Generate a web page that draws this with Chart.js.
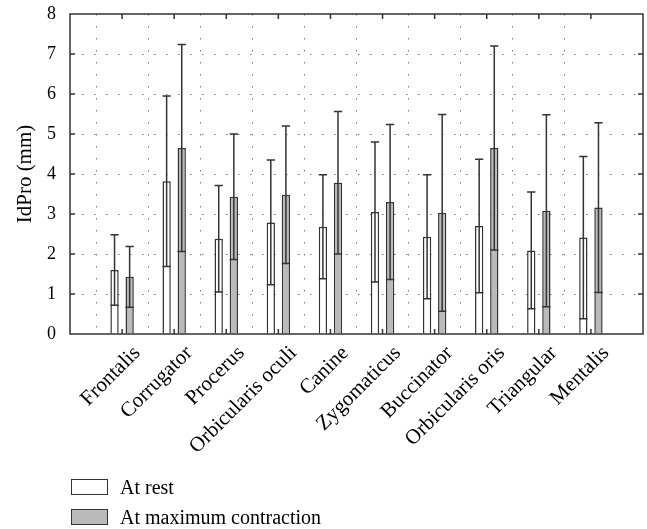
<!DOCTYPE html>
<html>
<head>
<meta charset="utf-8">
<script src="https://cdn.jsdelivr.net/npm/chart.js@4"></script>
<style>
    body { margin: 0; background: #fff; }
    #wrap { position: relative; width: 647px; height: 529px; }
    #legend { position: absolute; left: 71px; top: 472px; font-family: "Liberation Serif", serif; font-size: 20px; color: #000; }
    .item { display: flex; align-items: center; height: 30px; }
    .box { width: 35px; height: 14px; border: 1px solid #333; margin-right: 12px; }
</style>
</head>
<body>
<div id="wrap">
    <canvas id="chart" width="647" height="529"></canvas>
    <div id="legend"></div>
</div>
<script>
const muscles = ['Frontalis', 'Corrugator', 'Procerus', 'Orbicularis oculi', 'Canine', 'Zygomaticus', 'Buccinator', 'Orbicularis oris', 'Triangular', 'Mentalis'];
const restMean = [1.60, 3.82, 2.38, 2.79, 2.68, 3.05, 2.43, 2.70, 2.09, 2.41];
const restSd = [0.88, 2.13, 1.33, 1.56, 1.30, 1.75, 1.55, 1.67, 1.46, 2.03];
const maxMean = [1.43, 4.65, 3.43, 3.48, 3.78, 3.30, 3.03, 4.65, 3.08, 3.16];
const maxSd = [0.76, 2.59, 1.57, 1.72, 1.78, 1.94, 2.46, 2.55, 2.40, 2.12];
const yTicks = [0, 1, 2, 3, 4, 5, 6, 7, 8];

const seriesNames = ['At rest', 'At maximum contraction'];
const fills = ['#ffffff', '#bababa'];
const edge = '#333333';

// empty slot at each end so the muscles sit on the inner ticks
const labels = [''].concat(muscles, ['']);
function pad(arr) { return [null].concat(arr, [null]); }

const errorBars = {
    id: 'errorBars',
    afterDatasetsDraw(chart) {
        const ctx = chart.ctx;
        const y = chart.scales.y;
        const sds = [restSd, maxSd];
        const means = [restMean, maxMean];
        ctx.save();
        ctx.strokeStyle = edge;
        ctx.lineWidth = 1.5;
        chart.data.datasets.forEach((ds, d) => {
            chart.getDatasetMeta(d).data.forEach((bar, i) => {
                const k = i - 1;
                if (k < 0 || k >= muscles.length) return;
                const hi = y.getPixelForValue(means[d][k] + sds[d][k]);
                const lo = y.getPixelForValue(means[d][k] - sds[d][k]);
                const half = bar.width / 2;
                ctx.beginPath();
                ctx.moveTo(bar.x, lo);
                ctx.lineTo(bar.x, hi);
                ctx.moveTo(bar.x - half, hi);
                ctx.lineTo(bar.x + half, hi);
                ctx.moveTo(bar.x - half, lo);
                ctx.lineTo(bar.x + half, lo);
                ctx.stroke();
            });
        });
        ctx.restore();
    }
};

const frame = {
    id: 'frame',
    afterDraw(chart) {
        const ctx = chart.ctx;
        const a = chart.chartArea;
        const x = chart.scales.x;
        const y = chart.scales.y;
        ctx.save();
        ctx.strokeStyle = edge;
        ctx.lineWidth = 1.5;
        ctx.beginPath();
        ctx.rect(a.left, a.top, a.right - a.left, a.bottom - a.top);
        // small inward ticks
        for (let i = 1; i <= muscles.length; i++) {
            const px = x.getPixelForValue(i);
            ctx.moveTo(px, a.top);
            ctx.lineTo(px, a.top + 5);
            ctx.moveTo(px, a.bottom);
            ctx.lineTo(px, a.bottom - 5);
        }
        yTicks.slice(1, -1).forEach(v => {
            const py = y.getPixelForValue(v);
            ctx.moveTo(a.right, py);
            ctx.lineTo(a.right - 5, py);
            ctx.moveTo(a.left, py);
            ctx.lineTo(a.left + 5, py);
        });
        ctx.stroke();
        ctx.restore();
    }
};

const serif = 'Liberation Serif';

new Chart(document.getElementById('chart'), {
    type: 'bar',
    data: {
        labels: labels,
        datasets: [{
            label: seriesNames[0],
            data: pad(restMean),
            backgroundColor: fills[0],
            borderColor: edge,
            borderWidth: 1.5
        }, {
            label: seriesNames[1],
            data: pad(maxMean),
            backgroundColor: fills[1],
            borderColor: edge,
            borderWidth: 1.5
        }]
    },
    options: {
        responsive: false,
        animation: false,
        layout: { padding: { left: 0, right: 4, top: 14, bottom: 0 } },
        categoryPercentage: 0.58,
        barPercentage: 0.55,
        plugins: {
            legend: { display: false },
            tooltip: { enabled: false }
        },
        scales: {
            x: {
                offset: false,
                afterFit: s => { s.height = 195; s.paddingLeft = 0; s.paddingRight = 0; },
                grid: {
                    color: c => (c.index === 0 || c.index === labels.length - 1) ? 'rgba(0,0,0,0)' : '#777',
                    lineWidth: 1,
                    drawTicks: false
                },
                border: { display: false, dash: [1.5, 10.5] },
                ticks: {
                    autoSkip: false,
                    maxRotation: 45,
                    minRotation: 45,
                    padding: 7,
                    labelOffset: 15,
                    color: '#000',
                    font: { family: serif, size: 21 }
                }
            },
            y: {
                min: 0,
                max: 8,
                afterFit: s => { s.width = 70; s.paddingTop = 0; s.paddingBottom = 0; },
                afterBuildTicks: s => { s.ticks = yTicks.map(v => ({ value: v })); },
                grid: {
                    color: c => (c.tick.value === 0 || c.tick.value === 8) ? 'rgba(0,0,0,0)' : '#777',
                    lineWidth: 1,
                    drawTicks: false
                },
                border: { display: false, dash: [1.5, 10.5] },
                ticks: {
                    padding: 14,
                    color: '#000',
                    font: { family: serif, size: 18 }
                },
                title: {
                    display: true,
                    text: 'IdPro (mm)',
                    color: '#000',
                    padding: { top: 13, bottom: 0 },
                    font: { family: serif, size: 21 }
                }
            }
        }
    },
    plugins: [errorBars, frame]
});

const legend = document.getElementById('legend');
seriesNames.forEach((name, i) => {
    const row = document.createElement('div');
    row.className = 'item';
    const box = document.createElement('span');
    box.className = 'box';
    box.style.background = fills[i];
    const text = document.createElement('span');
    text.textContent = name;
    row.appendChild(box);
    row.appendChild(text);
    legend.appendChild(row);
});
</script>
</body>
</html>
